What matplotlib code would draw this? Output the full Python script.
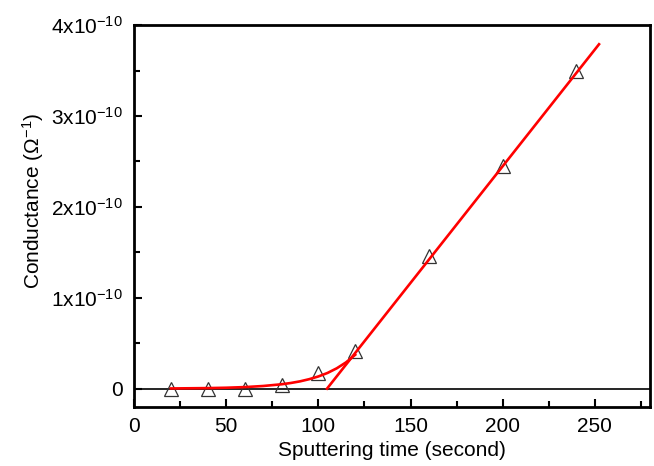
import matplotlib
matplotlib.use("Agg")
import matplotlib.pyplot as plt
from matplotlib.ticker import MultipleLocator, FixedLocator, FixedFormatter

plt.rcParams['font.family'] = ['Liberation Sans', 'DejaVu Sans']
plt.rcParams['mathtext.fontset'] = 'custom'
plt.rcParams['mathtext.rm'] = 'Liberation Sans'
plt.rcParams['mathtext.it'] = 'Liberation Sans'

# measured data
time_s = [20, 40, 60, 80, 100, 120, 160, 200, 240]
conductance = [0.0, 0.0, 0.0, 0.04e-10, 0.17e-10, 0.41e-10, 1.46e-10, 2.45e-10, 3.50e-10]

# exponential-like fit curve
curve_x = [20, 30, 40, 50, 60, 70, 80, 85, 90, 95, 100, 105, 110, 115, 120]
curve_y = [0.002e-10, 0.004e-10, 0.006e-10, 0.010e-10, 0.017e-10, 0.029e-10, 0.048e-10,
           0.062e-10, 0.080e-10, 0.104e-10, 0.134e-10, 0.173e-10, 0.224e-10, 0.289e-10, 0.373e-10]

# linear fit line (end points)
line_x = [104.7, 252.3]
line_y = [0.0, 3.79e-10]

yticks = [0, 1e-10, 2e-10, 3e-10, 4e-10]
ytick_labels = ['0', r'$\mathregular{1x10^{-10}}$', r'$\mathregular{2x10^{-10}}$',
                r'$\mathregular{3x10^{-10}}$', r'$\mathregular{4x10^{-10}}$']
xticks = [0, 50, 100, 150, 200, 250]

fig = plt.figure(figsize=(6.54, 4.66), dpi=100)
ax = fig.add_axes([0.205, 0.127, 0.789, 0.819])

ax.axhline(0, color='black', lw=1.2, zorder=1)
ax.plot(time_s, conductance, linestyle='none', marker='^', ms=10.5,
        markerfacecolor='none', markeredgecolor='#333333', markeredgewidth=0.9, zorder=2)
ax.plot(curve_x, curve_y, color='#ff0000', lw=1.9, zorder=3)
ax.plot(line_x, line_y, color='#ff0000', lw=1.9, zorder=3)

ax.set_xlim(0, 280)
ax.set_ylim(-0.2e-10, 4e-10)
ax.xaxis.set_major_locator(FixedLocator(xticks))
ax.xaxis.set_minor_locator(MultipleLocator(25))
ax.yaxis.set_major_locator(FixedLocator(yticks))
ax.yaxis.set_major_formatter(FixedFormatter(ytick_labels))
ax.yaxis.set_minor_locator(MultipleLocator(0.5e-10))

for s in ax.spines.values():
    s.set_linewidth(2.0)
ax.tick_params(which='both', direction='in', top=False, right=False, width=1.5, labelsize=15)
ax.tick_params(which='major', length=6)
ax.tick_params(which='minor', length=4)
ax.tick_params(axis='x', pad=7)
ax.tick_params(axis='y', pad=8)

ax.set_xlabel('Sputtering time (second)', fontsize=15, labelpad=4)
ax.set_ylabel(r'Conductance ($\mathregular{\Omega^{-1}}$)', fontsize=15, labelpad=4, y=0.54)

fig.savefig('out.png', dpi=100)
